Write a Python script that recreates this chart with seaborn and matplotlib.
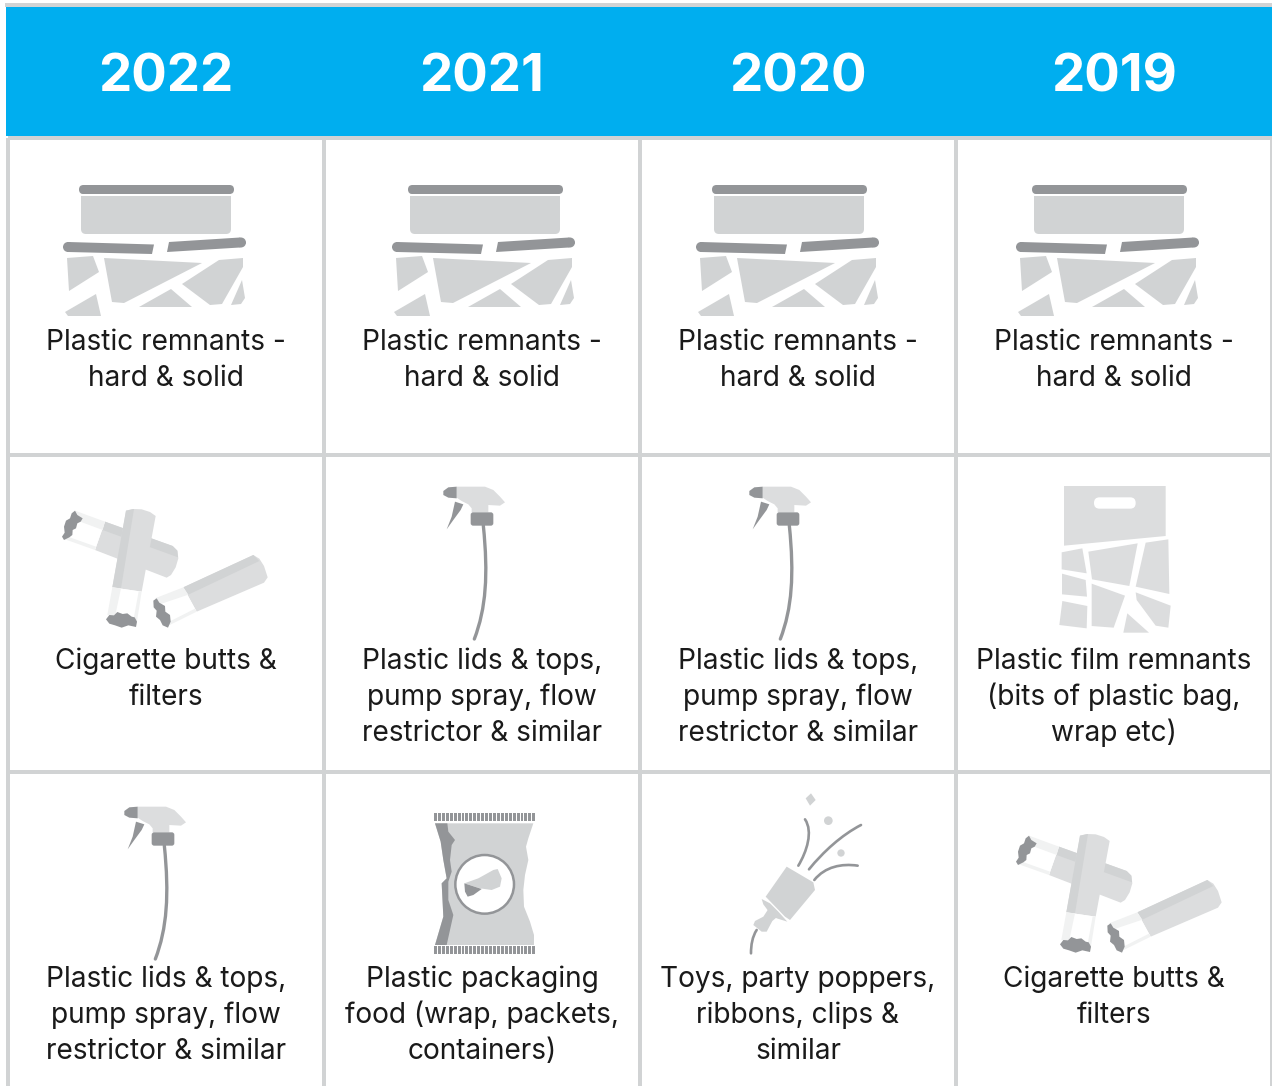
import numpy as np
import seaborn as sns
import matplotlib.pyplot as plt
from matplotlib.colors import ListedColormap
from matplotlib.patches import Polygon, Rectangle, Circle, FancyBboxPatch, PathPatch
from matplotlib.path import Path

W, H = 1272, 1086
BLUE = "#00aeef"
LINE = "#d1d3d4"
DARK = "#939598"
LIGHT = "#dcddde"
PALE = "#f1f2f2"
TEXT = "#1a1a1a"

# table contents
years = ["2022", "2021", "2020", "2019"]
row_1 = ["Plastic remnants -\nhard & solid"] * 4
row_2 = ["Cigarette butts &\nfilters",
         "Plastic lids & tops,\npump spray, flow\nrestrictor & similar",
         "Plastic lids & tops,\npump spray, flow\nrestrictor & similar",
         "Plastic film remnants\n(bits of plastic bag,\nwrap etc)"]
row_3 = ["Plastic lids & tops,\npump spray, flow\nrestrictor & similar",
         "Plastic packaging\nfood (wrap, packets,\ncontainers)",
         "Toys, party poppers,\nribbons, clips &\nsimilar",
         "Cigarette butts &\nfilters"]
rows = [row_1, row_2, row_3]
baselines = [350, 669, 987]
col_centers = [166, 482, 798, 1114]

sns.set_theme(style="white")
plt.rcParams["font.family"] = ["Inter", "DejaVu Sans"]

fig = plt.figure(figsize=(W / 100, H / 100), dpi=100, facecolor="white")


def px_axes(x0, y0, x1, y1):
    return fig.add_axes([x0 / W, 1 - y1 / H, (x1 - x0) / W, (y1 - y0) / H])


# header band
ax_head = px_axes(8, 7, 1272, 136)
sns.heatmap(np.zeros((1, 4)), ax=ax_head, cmap=ListedColormap([BLUE]), cbar=False,
            annot=np.array([years]), fmt="", xticklabels=False, yticklabels=False,
            annot_kws={"fontsize": 38, "fontweight": "bold", "color": "white", "va": "center"})
for t in ax_head.texts:
    t.set_y(0.553)

# body grid
ax_body = px_axes(7.5, 138, 1271.5, 138 + 3 * 316.75)
sns.heatmap(np.zeros((3, 4)), ax=ax_body, cmap=ListedColormap(["white"]), cbar=False,
            linewidths=2.6, linecolor=LINE, xticklabels=False, yticklabels=False)
ax_body.collections[0].set_clip_on(False)

# overlay in pixel coordinates for the icons and cell text
ov = fig.add_axes([0, 0, 1, 1])
ov.set_xlim(0, W)
ov.set_ylim(H, 0)
ov.axis("off")
ov.patch.set_alpha(0)

ov.add_patch(Rectangle((5, 3), W - 5, 4, color=LINE, lw=0))
ov.add_patch(Rectangle((6, 7), 3, 129, color=BLUE, lw=0))


def poly(pts, color, ox, oy, k=1.0):
    p = np.array(pts, dtype=float) * k + [ox, oy]
    ov.add_patch(Polygon(p, closed=True, facecolor=color, edgecolor="none", lw=0))


def curve(pts, ox, oy, k, lw, color=DARK):
    p = np.array(pts, dtype=float) * k + [ox, oy]
    path = Path(p, [Path.MOVETO] + [Path.CURVE4] * (len(p) - 1))
    ov.add_patch(PathPatch(path, facecolor="none", edgecolor=color, lw=lw, capstyle="round"))


def rbox(x0, y0, x1, y1, r, color):
    ov.add_patch(FancyBboxPatch((x0 + r, y0 + r), x1 - x0 - 2 * r, y1 - y0 - 2 * r,
                                boxstyle=f"round,pad={r}", facecolor=color, edgecolor="none", lw=0))


def container(dx, dy):
    rbox(81 + dx, 190 + dy, 231 + dx, 234 + dy, 5, LINE)
    ov.add_patch(Rectangle((81 + dx, 194 + dy), 150, 2, color="white", lw=0))
    rbox(79 + dx, 185 + dy, 234 + dx, 194 + dy, 4.5, DARK)
    poly([(68, 242), (154, 244.5), (152, 254), (68, 252), (63, 247)], DARK, dx, dy)
    ov.add_patch(Circle((68 + dx, 247 + dy), 5, color=DARK, lw=0))
    poly([(169, 242), (240, 237.5), (246, 243), (240, 247.5), (167, 252)], DARK, dx, dy)
    ov.add_patch(Circle((241 + dx, 242.5 + dy), 5, color=DARK, lw=0))
    shards = [
        [(67, 258), (93, 256), (99, 272), (69, 291)],
        [(65, 312), (96, 294), (101, 316), (68, 316)],
        [(104, 258), (202, 263), (124, 303), (112, 302)],
        [(139, 307), (171, 289), (192, 307)],
        [(182, 284), (219, 260), (243, 258), (243, 267), (222, 304), (210, 305)],
        [(242, 280), (245, 298), (241, 304), (231, 305)],
    ]
    for s in shards:
        poly(s, LINE, dx, dy)


def cigarettes(dx, dy):
    ox, oy, k = 40 + dx, 480 + dy, 1 / 3
    # lying butt
    poly([(195, 125), (398, 198), (412, 212), (415, 235), (407, 262), (393, 285), (380, 293), (165, 210)],
         LIGHT, ox, oy, k)
    poly([(195, 125), (398, 198), (412, 212), (414, 232), (188, 150)], LINE, ox, oy, k)
    poly([(105, 92), (195, 125), (165, 210), (75, 178)], "white", ox, oy, k)
    poly([(105, 92), (195, 125), (188, 150), (118, 124)], PALE, ox, oy, k)
    poly([(75, 178), (165, 210), (168, 200), (84, 170)], PALE, ox, oy, k)
    poly([(105, 92), (112, 105), (128, 115), (122, 125), (112, 130), (108, 145), (98, 150), (97, 165),
          (88, 172), (72, 180), (66, 170), (74, 158), (72, 140), (78, 122), (90, 115), (95, 100)],
         DARK, ox, oy, k)
    # upright butt
    poly([(258, 92), (278, 87), (305, 88), (330, 96), (347, 108), (305, 335), (217, 322)], LIGHT, ox, oy, k)
    poly([(258, 92), (282, 87), (243, 325), (217, 322)], LINE, ox, oy, k)
    poly([(217, 322), (305, 335), (290, 432), (200, 412)], "white", ox, oy, k)
    poly([(217, 322), (243, 325), (226, 405), (202, 405)], PALE, ox, oy, k)
    poly([(305, 335), (296, 334), (280, 422), (290, 430)], PALE, ox, oy, k)
    poly([(198, 418), (208, 405), (222, 406), (232, 396), (248, 402), (262, 400), (275, 410), (284, 412),
          (291, 425), (288, 441), (265, 436), (245, 443), (225, 436), (208, 431)], DARK, ox, oy, k)
    # loose butt
    poly([(430, 322), (640, 225), (658, 236), (672, 258), (683, 292), (672, 308), (470, 395)], LIGHT, ox, oy, k)
    poly([(430, 322), (640, 225), (658, 243), (445, 344)], LINE, ox, oy, k)
    poly([(345, 355), (430, 322), (470, 395), (385, 437)], "white", ox, oy, k)
    poly([(345, 355), (430, 322), (445, 344), (362, 372)], PALE, ox, oy, k)
    poly([(385, 437), (470, 395), (465, 386), (388, 425)], PALE, ox, oy, k)
    poly([(340, 362), (350, 355), (358, 368), (375, 378), (376, 395), (390, 405), (392, 425), (384, 443),
          (368, 436), (360, 420), (348, 410), (350, 392), (341, 382)], DARK, ox, oy, k)


def spray(dx, dy):
    ox, oy, k = 420 + dx, 475 + dy, 1 / 3
    curve([(190, 152), (205, 300), (198, 400), (163, 492)], ox, oy, k, 2.4)
    poly([(110, 35), (195, 35), (220, 45), (240, 65), (255, 82), (240, 92), (205, 90), (205, 112), (155, 112),
          (155, 100), (145, 88), (125, 78), (110, 68)], LIGHT, ox, oy, k)
    poly([(110, 35), (85, 37), (70, 48), (70, 60), (85, 68), (110, 70)], DARK, ox, oy, k)
    poly([(105, 80), (130, 88), (122, 105), (100, 135), (80, 163), (95, 125)], DARK, ox, oy, k)
    rbox(ox + 152 * k, oy + 112 * k, ox + 220 * k, oy + 152 * k, 2.5, DARK)


def film(dx, dy):
    ox, oy, k = 1040 + dx, 475 + dy, 1 / 3
    poly([(72, 33), (377, 33), (377, 183), (72, 212)], LIGHT, ox, oy, k)
    rbox(ox + 162 * k, oy + 67 * k, ox + 287 * k, oy + 101 * k, 5.5, "white")
    pieces = [
        [(65, 232), (127, 220), (140, 295), (65, 283)],
        [(66, 296), (137, 315), (141, 365), (66, 358)],
        [(67, 378), (142, 393), (140, 460), (58, 450)],
        [(145, 230), (293, 205), (268, 333), (156, 313)],
        [(317, 203), (385, 193), (388, 357), (287, 335)],
        [(155, 326), (255, 362), (221, 458), (155, 453)],
        [(287, 352), (392, 392), (385, 458), (347, 452), (290, 375)],
        [(262, 415), (327, 473), (250, 473)],
    ]
    for s in pieces:
        poly(s, LIGHT, ox, oy, k)


def snack_bag(dx, dy):
    ox, oy, k = 420 + dx, 800 + dy, 1 / 3
    poly([(45, 70), (340, 70), (325, 115), (318, 140), (325, 180), (315, 225), (310, 270), (312, 320),
          (330, 365), (342, 405), (342, 435), (45, 435), (70, 350), (65, 250), (80, 235), (70, 180), (62, 125)],
         LINE, ox, oy, k)
    poly([(45, 70), (82, 70), (85, 95), (105, 120), (95, 135), (90, 180), (95, 215), (85, 245), (85, 300),
          (100, 345), (80, 435), (45, 435), (70, 350), (65, 250), (80, 235), (70, 180), (62, 125)],
         DARK, ox, oy, k)
    for top in (40, 438):
        for i in range(26):
            ov.add_patch(Rectangle((ox + (42 + i * 11.8) * k, oy + top * k), 2.9, 24 * k, color=DARK, lw=0))
    ov.add_patch(Circle((ox + 194 * k, oy + 253 * k), 88 * k, facecolor="white", edgecolor=DARK, lw=1.8))
    poly([(133, 250), (175, 235), (220, 210), (233, 207), (245, 235), (240, 260), (215, 270), (180, 265)],
         LINE, ox, oy, k)
    poly([(133, 250), (185, 267), (160, 285), (143, 290), (135, 275)], DARK, ox, oy, k)


def popper(dx, dy):
    ox, oy, k = 735 + dx, 785 + dy, 1 / 3
    poly([(155, 245), (235, 292), (240, 315), (165, 405), (150, 395), (92, 335)], LINE, ox, oy, k)
    poly([(80, 342), (105, 355), (130, 380), (157, 410), (125, 400), (105, 385), (85, 358)], LINE, ox, oy, k)
    poly([(100, 372), (125, 397), (112, 408), (95, 440), (80, 440), (55, 420), (60, 408), (85, 395)], LINE, ox, oy, k)
    curve([(65, 435), (52, 455), (48, 480), (48, 505)], ox, oy, k, 1.9)
    curve([(210, 103), (235, 140), (215, 200), (190, 242)], ox, oy, k, 1.9)
    curve([(378, 120), (320, 150), (265, 200), (222, 253)], ox, oy, k, 1.9)
    curve([(368, 242), (320, 235), (270, 245), (238, 285)], ox, oy, k, 1.9)
    ov.add_patch(Circle((ox + 280 * k, oy + 107 * k), 13 * k, color=LINE, lw=0))
    ov.add_patch(Circle((ox + 318 * k, oy + 204 * k), 11 * k, color=LINE, lw=0))
    poly([(228, 25), (242, 45), (225, 62), (212, 40)], LINE, ox, oy, k)


# which icon sits in each cell, with the shift from where its shape was traced
icons = {
    (0, 0): (container, 0, 0), (0, 1): (container, 329, 0),
    (0, 2): (container, 633, 0), (0, 3): (container, 953, 0),
    (1, 0): (cigarettes, 0, 0), (1, 1): (spray, 0, 0),
    (1, 2): (spray, 306, 0), (1, 3): (film, 0, 0),
    (2, 0): (spray, -319, 320), (2, 1): (snack_bag, 0, 0),
    (2, 2): (popper, 0, 0), (2, 3): (cigarettes, 954, 325),
}
for func, dx, dy in icons.values():
    func(dx, dy)

for r, row in enumerate(rows):
    for c, label in enumerate(row):
        for n, line in enumerate(label.split("\n")):
            ov.text(col_centers[c], baselines[r] + 36 * n, line, ha="center", va="baseline",
                    fontsize=20.2, color=TEXT)

fig.savefig("out.png", dpi=100)
